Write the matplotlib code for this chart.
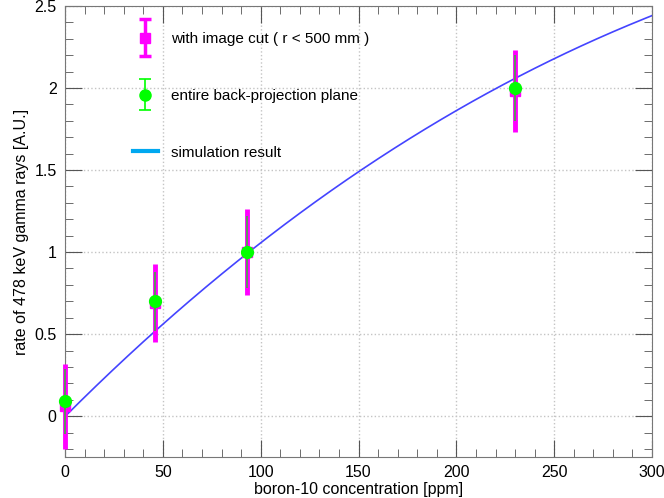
import numpy as np
import matplotlib.pyplot as plt
from matplotlib.lines import Line2D
from matplotlib.ticker import MultipleLocator
from matplotlib.legend_handler import HandlerErrorbar

plt.rcParams['font.family'] = ['Liberation Sans', 'DejaVu Sans']

# measured points
conc = [0, 46, 93, 230]
cut_rate = [0.06, 0.69, 1.0, 1.98]
cut_err = [0.26, 0.24, 0.26, 0.25]
full_rate = [0.09, 0.70, 1.0, 2.0]
full_err = [0.2, 0.18, 0.22, 0.2]

# simulation curve
sim_x = [0, 25, 50, 75, 100, 125, 150, 175, 200, 225, 250, 275, 300]
sim_y = [0.0, 0.29, 0.56, 0.81, 1.05, 1.28, 1.5, 1.69, 1.87, 2.02, 2.17, 2.31, 2.45]

fig = plt.figure(figsize=(6.64, 4.98), dpi=100)
ax = fig.add_axes([0.098, 0.082, 0.884, 0.906])

# smooth the read-off points for drawing
xs = np.linspace(0, 300, 301)
coef = np.polyfit(sim_x, sim_y, 3)
ax.plot(xs, np.polyval(coef, xs), color='#4444ff', lw=1.2, zorder=2)

ax.errorbar(conc, cut_rate, yerr=cut_err, fmt='s', color='#ff00ff', ms=7.5,
            elinewidth=3.5, capsize=0, zorder=3, clip_on=False)
ax.errorbar(conc, full_rate, yerr=full_err, fmt='o', color='#00ff00', ecolor='#40b040',
            ms=8.5, elinewidth=1.2, capsize=0, zorder=4, clip_on=False)

# legend proxies
h1 = ax.errorbar([np.nan], [np.nan], yerr=[0.1], fmt='s', color='#ff00ff', ms=7.5,
                 elinewidth=2.5, capsize=4, capthick=2.5)
h2 = ax.errorbar([np.nan], [np.nan], yerr=[0.1], fmt='o', color='#00ff00', ms=8,
                 elinewidth=1.2, capsize=4, capthick=1.2)
h3 = Line2D([], [], color='#00a8f0', lw=3)
ax.legend([h1, h2, h3],
          ['with image cut ( r < 500 mm )', 'entire back-projection plane', 'simulation result'],
          handler_map={h1: HandlerErrorbar(xerr_size=0.5, yerr_size=1.2),
                       h2: HandlerErrorbar(xerr_size=0.5, yerr_size=1.0)},
          loc='upper left', bbox_to_anchor=(0.09, 0.976), frameon=False, fontsize=11,
          labelspacing=2.8, handlelength=1.6, handletextpad=0.9, borderaxespad=0.6)

ax.set_xlim(0, 300)
ax.set_ylim(-0.25, 2.5)
ax.xaxis.set_major_locator(MultipleLocator(50))
ax.xaxis.set_minor_locator(MultipleLocator(10))
ax.yaxis.set_major_locator(MultipleLocator(0.5))
ax.yaxis.set_minor_locator(MultipleLocator(0.1))
ax.yaxis.set_major_formatter(plt.FuncFormatter(lambda v, p: f'{v:g}'))
ax.tick_params(which='both', direction='in', top=True, right=True, labelsize=11.5,
               color='#555555')
ax.tick_params(which='major', length=12, pad=6)
ax.tick_params(which='minor', length=6)
ax.grid(True, which='major', color='#c4c4c4', ls=':', lw=1)
for s in ax.spines.values():
    s.set_color('#777777')

ax.set_xlabel('boron-10 concentration [ppm]', fontsize=11.5, labelpad=1)
ax.set_ylabel('rate of 478 keV gamma rays [A.U.]', fontsize=11.5, labelpad=4)

fig.savefig('out.png', dpi=100)
